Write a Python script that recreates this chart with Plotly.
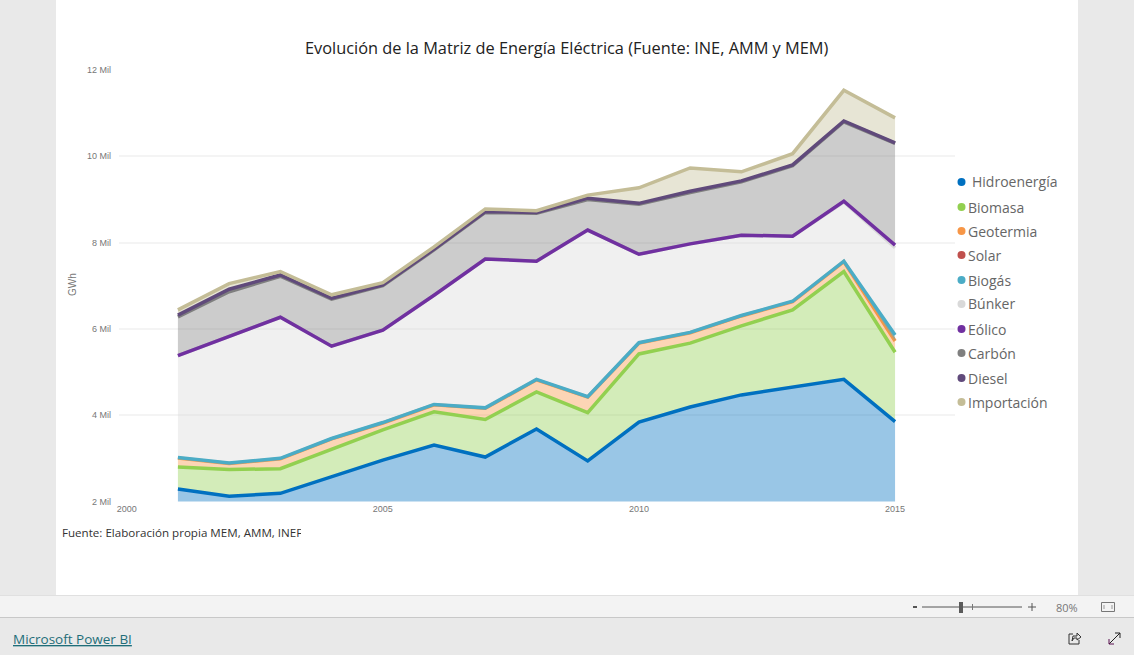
import plotly.graph_objects as go

W, H = 1134, 655

years = list(range(2001, 2016))
hidroenergia = [2290, 2120, 2190, 2570, 2960, 3310, 3030, 3680, 2940, 3840, 4190, 4470, 4650, 4830, 3850]
biomasa = [510, 620, 570, 650, 700, 770, 870, 860, 1120, 1580, 1480, 1600, 1790, 2500, 1610]
geotermia = [210, 140, 230, 230, 160, 160, 260, 280, 360, 250, 240, 230, 190, 230, 260]
solar = [0, 0, 0, 0, 0, 0, 0, 0, 0, 0, 0, 0, 0, 0, 0]
biogas = [10, 10, 10, 10, 10, 10, 10, 10, 10, 10, 10, 10, 10, 10, 140]
bunker = [2360, 2940, 3270, 2140, 2140, 2530, 3450, 2740, 3860, 2050, 2050, 1860, 1510, 1370, 2020]
eolico = [0, 0, 0, 0, 0, 0, 0, 0, 0, 0, 0, 0, 0, 20, 60]
carbon = [900, 1030, 950, 1090, 1030, 1050, 1080, 1110, 710, 1160, 1190, 1240, 1630, 1840, 2360]
diesel = [40, 60, 30, 20, 20, 20, 20, 20, 30, 20, 30, 20, 20, 20, 10]
importacion = [120, 130, 80, 80, 50, 50, 60, 40, 70, 360, 540, 210, 260, 710, 580]

series_names = ["Hidroenergía", "Biomasa", "Geotermia", "Solar", "Biogás", "Búnker",
                "Eólico", "Carbón", "Diesel", "Importación"]
series_values = [hidroenergia, biomasa, geotermia, solar, biogas, bunker, eolico, carbon, diesel, importacion]
series_colors = ["#0070C0", "#92D050", "#F79646", "#C0504D", "#4BACC6", "#D9D9D9",
                 "#7030A0", "#7F7F7F", "#604A7B", "#C4BD97"]

y_ticks = [2000, 4000, 6000, 8000, 10000, 12000]
y_labels = ["2 Mil", "4 Mil", "6 Mil", "8 Mil", "10 Mil", "12 Mil"]
x_ticks = [2000, 2005, 2010, 2015]

TITLE = "Evolución de la Matriz de Energía Eléctrica (Fuente: INE, AMM y MEM)"
FOOTNOTE = "Fuente: Elaboración propia MEM, AMM, INEF"


def px(x):
    return x / W


def py(y):
    return 1 - y / H


def rgba(hex_color, alpha):
    r, g, b = (int(hex_color[i:i + 2], 16) for i in (1, 3, 5))
    return f"rgba({r},{g},{b},{alpha})"


fig = go.Figure()
for name, vals, col in zip(series_names, series_values, series_colors):
    fig.add_trace(go.Scatter(
        x=years, y=vals, name=name, stackgroup="one", mode="lines",
        line=dict(color=col, width=0 if name == "Solar" else 3.5, shape="linear"),
        fillcolor=rgba(col, 0.4), showlegend=False,
    ))


def rect(x0, y0, x1, y1, fill, layer="below", line=None):
    return dict(type="rect", xref="paper", yref="paper", x0=px(x0), x1=px(x1), y0=py(y0), y1=py(y1),
                fillcolor=fill, line=line or dict(width=0), layer=layer)


def seg(x0, y0, x1, y1, color, width=1):
    return dict(type="line", xref="paper", yref="paper", x0=px(x0), x1=px(x1), y0=py(y0), y1=py(y1),
                line=dict(color=color, width=width), layer="above")


def label(text, x, y, family, size, color, xanchor="left", **kw):
    return dict(text=text, xref="paper", yref="paper", x=px(x), y=py(y), xanchor=xanchor, yanchor="middle",
                showarrow=False, font=dict(family=family, size=size, color=color), **kw)


shapes = [
    rect(0, 0, W, H, "#E9E9E9"),
    rect(56, 0, 1078, 595, "#FFFFFF"),
    rect(0, 595, W, 618, "#F3F3F3"),
    seg(0, 595.5, W, 595.5, "#E0E0E0"),
    seg(0, 617.5, W, 617.5, "#C8C8C8"),
    # zoom slider
    seg(922, 607, 1022, 607, "#555555"),
    seg(972.5, 604, 972.5, 610, "#777777"),
    rect(959, 602, 963, 613, "#5A5A5A", layer="above"),
    seg(913, 607, 917, 607, "#555555", 2),
    seg(1028, 607, 1036, 607, "#555555"),
    seg(1032, 603, 1032, 611, "#555555"),
    # fit-to-page icon
    rect(1101.5, 602.5, 1114.5, 611.5, "rgba(0,0,0,0)", layer="above", line=dict(color="#777777", width=1)),
    seg(1104, 605, 1104, 609, "#999999"),
    seg(1112, 605, 1112, 609, "#999999"),
    # share icon
    dict(type="path", xref="paper", yref="paper", layer="above",
         path=(f"M {px(1073)} {py(634)} L {px(1069)} {py(634)} L {px(1069)} {py(644)} "
               f"L {px(1079)} {py(644)} L {px(1079)} {py(640)} "
               f"M {px(1072)} {py(641)} L {px(1073)} {py(636)} L {px(1077)} {py(636)} "
               f"L {px(1077)} {py(633)} L {px(1081)} {py(637)} L {px(1077)} {py(640)} L {px(1077)} {py(638)} "
               f"L {px(1074)} {py(638)} Z"),
         line=dict(color="#333333", width=1)),
    # expand icon
    seg(1109, 644, 1120, 633, "#222222"),
    seg(1115, 633, 1120, 633, "#222222"),
    seg(1120, 633, 1120, 638, "#222222"),
    seg(1109, 639, 1109, 644, "#5A1050"),
    seg(1109, 644, 1114, 644, "#5A1050"),
]

legend_y = [182, 207, 231, 255, 280, 304, 329, 353, 378, 402]
annotations = []
for i, (name, col, ly) in enumerate(zip(series_names, series_colors, legend_y)):
    shapes.append(dict(type="circle", xref="paper", yref="paper", layer="above",
                       x0=px(957.5), x1=px(965.5), y0=py(ly - 4), y1=py(ly + 4),
                       fillcolor=col, line=dict(width=0)))
    annotations.append(label(name, 970 if i == 0 else 966, ly, "Open Sans", 14, "#666666"))

annotations += [
    label(TITLE, 567, 48, "Open Sans", 16.35, "#222222", xanchor="center"),
    label("GWh", 73, 285, "Liberation Sans", 10, "#777777", xanchor="center", textangle=-90),
    label(FOOTNOTE, 60, 532, "Open Sans", 11.6, "#333333", width=239, align="left"),
    label("<u>Microsoft Power BI</u>", 11, 639, "Open Sans", 13.5, "#1F6E79"),
    label("80%", 1067, 607, "Open Sans", 11, "#777777", xanchor="center"),
]

fig.update_layout(
    width=W, height=H, autosize=False,
    margin=dict(l=0, r=0, t=0, b=0, pad=0, autoexpand=False),
    paper_bgcolor="rgba(0,0,0,0)", plot_bgcolor="rgba(0,0,0,0)",
    showlegend=False, hovermode=False,
    shapes=shapes, annotations=annotations,
    xaxis=dict(domain=[px(119), px(955)], range=[1999.85, 2016.17], tickmode="array",
               tickvals=x_ticks, ticktext=[str(t) for t in x_ticks], showgrid=False, zeroline=False,
               showline=False, ticks="", ticklabelstandoff=0,
               tickfont=dict(family="Liberation Sans", size=9, color="#777777")),
    yaxis=dict(domain=[py(501.5), py(70)], range=[2000, 12000], tickmode="array",
               tickvals=y_ticks, ticktext=y_labels, showgrid=True, gridcolor="#F4F4F4", gridwidth=1.5,
               zeroline=False, showline=False, ticks="", ticklabelstandoff=7,
               tickfont=dict(family="Liberation Sans", size=9, color="#777777")),
)

fig.write_html("out.html", config=dict(displayModeBar=False),
               post_script="document.body.style.margin='0';document.documentElement.style.background='#E9E9E9';")
